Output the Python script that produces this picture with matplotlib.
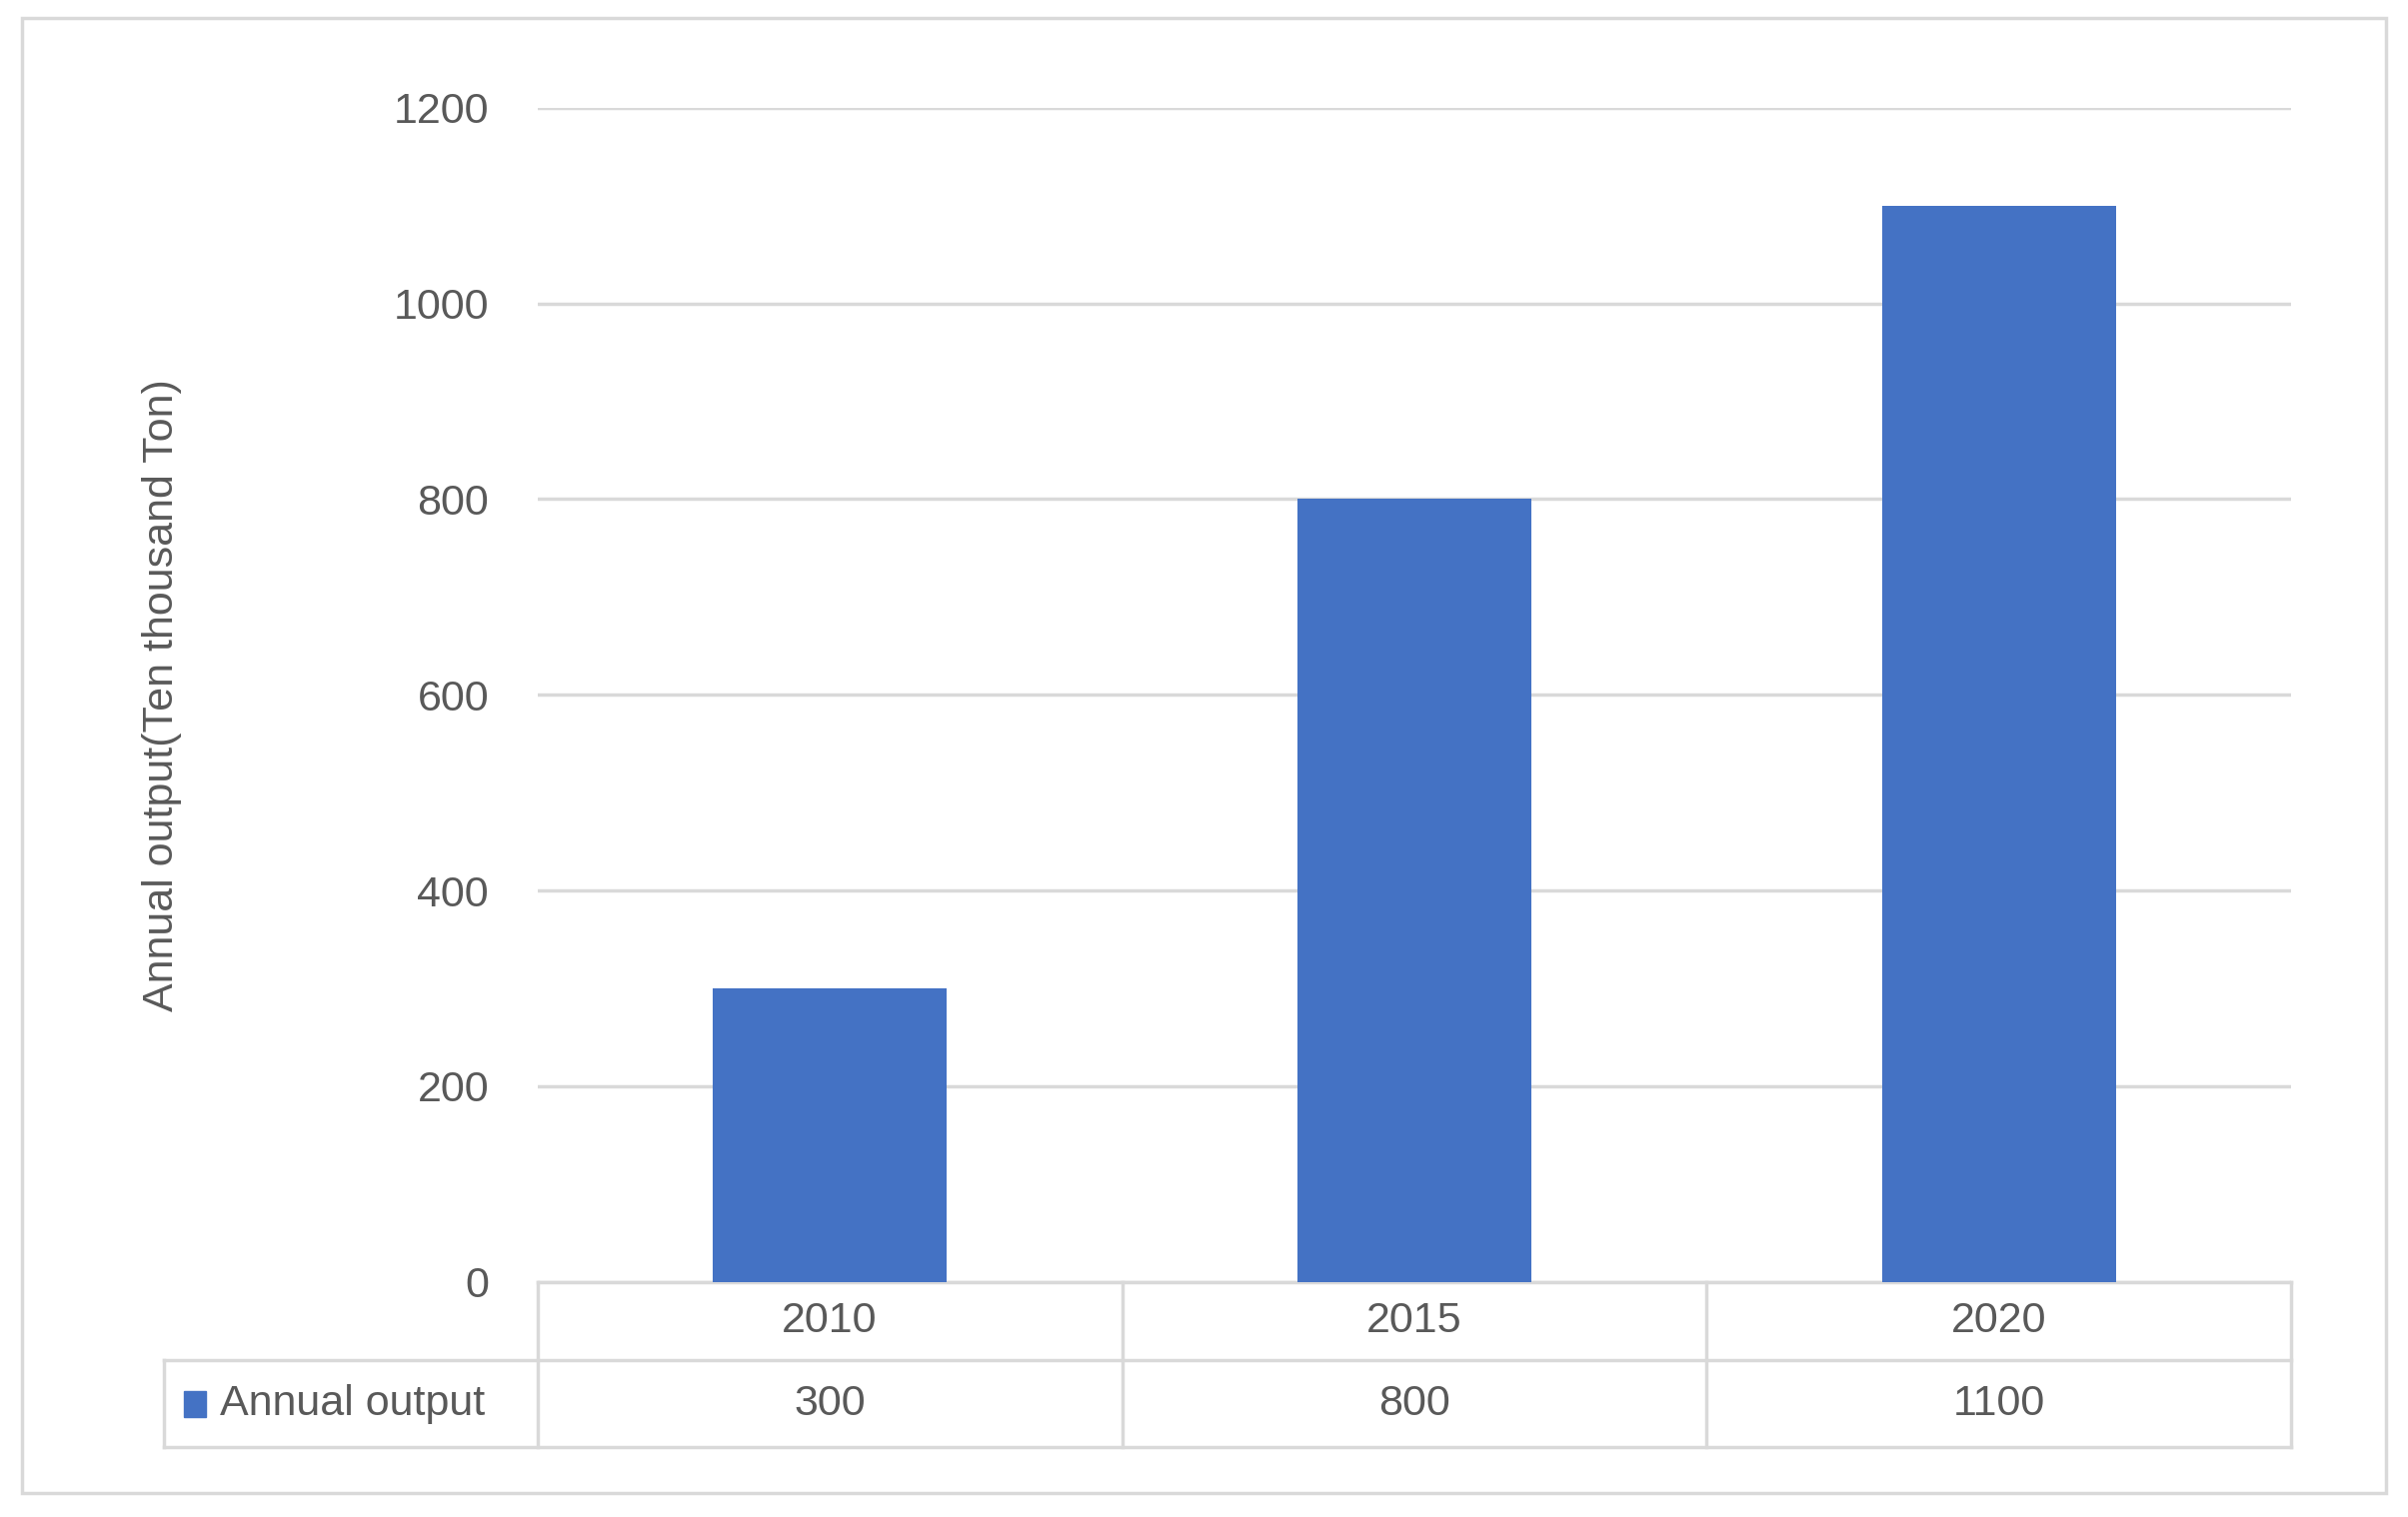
import matplotlib.pyplot as plt
from matplotlib.patches import Rectangle

years = ["2010", "2015", "2020"]
output = [300, 800, 1100]
series_name = "Annual output"
y_ticks = [0, 200, 400, 600, 800, 1000, 1200]

grey = "#595959"
line_c = "#d9d9d9"
bar_c = "#4472C4"
fs = 31

plt.rcParams["font.family"] = ["Liberation Sans", "DejaVu Sans"]

fig = plt.figure(figsize=(24.09, 15.18), dpi=100)
ax = fig.add_axes([0.2232, 0.155, 0.7283, 0.774])

x = range(len(years))
ax.bar(x, output, width=0.4, color=bar_c, zorder=3)
ax.set_xlim(-0.5, len(years) - 0.5)
ax.set_ylim(0, 1200)
ax.set_yticks(y_ticks)
ax.set_xticks([])
ax.tick_params(axis="y", length=0, labelsize=fs, labelcolor=grey, pad=35)
ax.grid(axis="y", color=line_c, linewidth=2.5, zorder=0)
for s in ax.spines.values():
    s.set_visible(False)
ax.set_ylabel("Annual output(Ten thousand Ton)", fontsize=fs, color=grey)
ax.yaxis.set_label_coords(-0.203, 0.5)

# data table below the axis
left = -0.2128
r1, r2 = -0.0667, -0.141
kw = dict(transform=ax.transAxes, color=line_c, linewidth=2.5, clip_on=False)
ax.plot([0, 1], [0, 0], **kw)
ax.plot([left, 1], [r1, r1], **kw)
ax.plot([left, 1], [r2, r2], **kw)
ax.plot([left, left], [r1, r2], **kw)
n = len(years)
for i in range(n + 1):
    ax.plot([i / n, i / n], [0, r2], **kw)
for i in range(n):
    xc = (i + 0.5) / n
    ax.text(xc, r1 / 2, years[i], transform=ax.transAxes, ha="center", va="center",
            fontsize=fs, color=grey)
    ax.text(xc, (r1 + r2) / 2, str(output[i]), transform=ax.transAxes, ha="center",
            va="center", fontsize=fs, color=grey)
ax.text(-0.181, (r1 + r2) / 2, series_name, transform=ax.transAxes, ha="left",
        va="center", fontsize=fs, color=grey)
ax.add_patch(Rectangle((-0.2015, (r1 + r2) / 2 - 0.011), 0.0125, 0.022,
                       transform=ax.transAxes, color=bar_c, clip_on=False))

fig.patches.append(Rectangle((0.009, 0.016), 0.982, 0.972, transform=fig.transFigure,
                             fill=False, edgecolor=line_c, linewidth=2.5))

fig.savefig("out.png", dpi=100)
